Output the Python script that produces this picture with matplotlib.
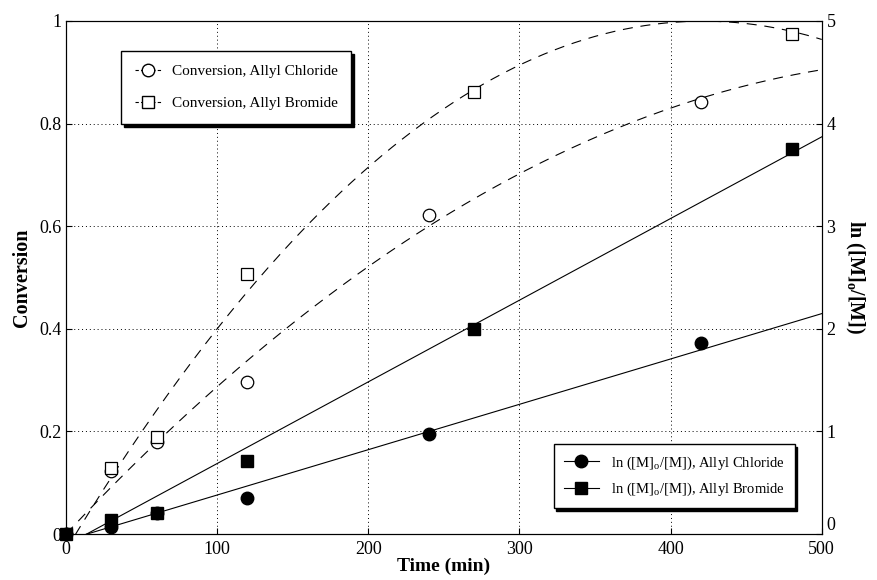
import numpy as np
import matplotlib
matplotlib.use("Agg")
import matplotlib.pyplot as plt
from matplotlib.lines import Line2D

plt.rcParams['font.family'] = ['Liberation Serif', 'DejaVu Serif']
plt.rcParams['mathtext.fontset'] = 'custom'
plt.rcParams['mathtext.rm'] = 'Liberation Serif'

# conversion data (left axis)
t_cl = [0, 30, 60, 120, 240, 420]
conv_cl = [0, 0.123, 0.18, 0.297, 0.622, 0.842]
t_br = [0, 30, 60, 120, 270, 480]
conv_br = [0, 0.129, 0.19, 0.507, 0.862, 0.974]

# ln([M]o/[M]) data (right axis)
ln_cl = [0, 0.07, 0.20, 0.35, 0.975, 1.86]
ln_br = [0, 0.136, 0.20, 0.71, 2.0, 3.75]

# trend lines
conv_fit_cl = [-2.654e-6, 0.003137, 0.0]     # quadratic
conv_fit_br = [-5.8e-6, 0.00489, -0.031]     # quadratic
ln_fit_cl = [0.00442, -0.062]                # linear
ln_fit_br = [0.00796, -0.109]                # linear

t_fit = np.linspace(0, 500, 300)

fig = plt.figure(figsize=(8.77, 5.80), dpi=100)
ax = fig.add_axes([0.0753, 0.0793, 0.8617, 0.8845])
ax2 = ax.twinx()

dash = (0, (9, 7))
ax.plot(t_fit, np.polyval(conv_fit_cl, t_fit), color='k', lw=0.8, ls=dash)
ax.plot(t_fit, np.polyval(conv_fit_br, t_fit), color='k', lw=0.8, ls=dash)
ax.plot(t_cl, conv_cl, 'o', ms=9, mfc='white', mec='k', mew=0.9, ls='none')
ax.plot(t_br, conv_br, 's', ms=9, mfc='white', mec='k', mew=0.9, ls='none')

ax2.plot(t_fit, np.polyval(ln_fit_cl, t_fit), color='k', lw=0.8)
ax2.plot(t_fit, np.polyval(ln_fit_br, t_fit), color='k', lw=0.8)
ax2.plot(t_cl, ln_cl, 'o', ms=9, color='k', ls='none', clip_on=False)
ax2.plot(t_br, ln_br, 's', ms=9, color='k', ls='none', clip_on=False)

ax.set_xlim(0, 500)
ax.set_ylim(0, 1)
ax2.set_ylim(0, 5)
ax.set_xticks([0, 100, 200, 300, 400, 500])
ax.set_yticks([0, 0.2, 0.4, 0.6, 0.8, 1])
ax.set_yticklabels(['0', '0.2', '0.4', '0.6', '0.8', '1'])
ax2.set_yticks([0, 1, 2, 3, 4, 5])

ax.grid(True, color='k', ls=(0, (1, 3)), lw=0.7)
for a in (ax, ax2):
    a.tick_params(direction='in', length=4, labelsize=13)
ax.tick_params(axis='x', pad=5)
ax2.yaxis.get_major_ticks()[0].label2.set_verticalalignment('bottom')

ax.set_xlabel('Time (min)', fontsize=14, fontweight='bold', labelpad=0)
ax.set_ylabel('Conversion', fontsize=14.5, fontweight='bold', labelpad=5)
ax2.set_ylabel(r'ln ([M]$_\mathregular{o}$/[M])', fontsize=14.5, fontweight='bold',
               rotation=270, labelpad=22)

h1 = [Line2D([], [], color='k', lw=0.8, ls=(0, (3, 2)), marker='o', ms=9, mfc='white', mec='k'),
      Line2D([], [], color='k', lw=0.8, ls=(0, (3, 2)), marker='s', ms=9, mfc='white', mec='k')]
leg1 = ax2.legend(h1, ['Conversion, Allyl Chloride', 'Conversion, Allyl Bromide'],
                  loc='upper left', bbox_to_anchor=(0.073, 0.9415), borderaxespad=0,
                  fancybox=False, edgecolor='k', framealpha=1, fontsize=11,
                  labelspacing=1.2, handlelength=1.7, handletextpad=0.7, borderpad=0.9,
                  shadow={'color': 'k', 'alpha': 1})
leg1.get_frame().set_linewidth(1.0)
ax2.add_artist(leg1)

h2 = [Line2D([], [], color='k', lw=0.8, marker='o', ms=9),
      Line2D([], [], color='k', lw=0.8, marker='s', ms=9)]
leg2 = ax2.legend(h2, [r'ln ([M]$_\mathregular{o}$/[M]), Allyl Chloride',
                       r'ln ([M]$_\mathregular{o}$/[M]), Allyl Bromide'],
                  loc='lower right', bbox_to_anchor=(0.964, 0.0507), borderaxespad=0,
                  fancybox=False, edgecolor='k', framealpha=1, fontsize=10.5,
                  labelspacing=0.6, handlelength=2.4, borderpad=0.7,
                  shadow={'color': 'k', 'alpha': 1})
leg2.get_frame().set_linewidth(1.0)

fig.savefig('out.png', dpi=100)
